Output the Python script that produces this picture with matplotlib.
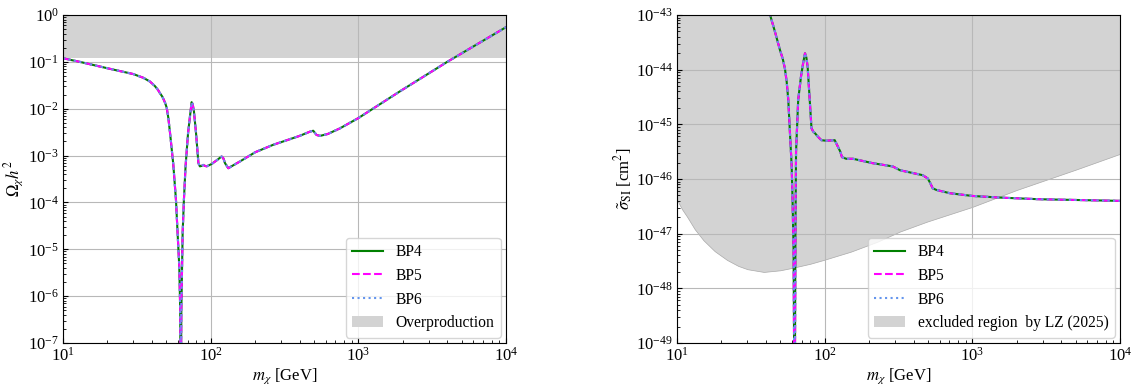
import numpy as np
import matplotlib
matplotlib.use("Agg")
import matplotlib.pyplot as plt
from matplotlib.patches import Patch
from matplotlib.lines import Line2D

plt.rcParams['font.family'] = ['Liberation Serif', 'DejaVu Serif']
plt.rcParams['mathtext.fontset'] = 'stix'

# ---------------- data: relic density ----------------
m_relic = [10, 13, 17.8, 23, 29.9, 35, 38.8, 42, 44, 45.4, 47, 48, 49.2, 50.4, 51.7,
           53, 55.8, 58.2, 59.7, 61.3, 62.2, 62.7, 63.3, 64.6, 65.9, 67.6, 70.3,
           72.5, 74.3, 75.5, 77.0, 79.6, 82.6, 84.5, 87, 89, 91.5, 94, 101.5, 110,
           118.6, 122, 125, 131.6, 140, 157, 200, 265, 309, 400, 470, 495, 521, 550,
           620, 750, 1000, 1911, 4000, 10000]
log_omega_bp4 = [-0.923, -1.00, -1.10, -1.18, -1.26, -1.34, -1.42, -1.52, -1.60,
                 -1.67, -1.74, -1.80, -1.88, -1.98, -2.20, -2.50, -3.18, -3.94,
                 -4.65, -5.37, -6.30, -9.0, -6.30, -4.65, -3.94, -3.23, -2.52,
                 -2.15, -1.86, -1.90, -2.05, -2.52, -3.16, -3.23, -3.22, -3.20,
                 -3.22, -3.23, -3.18, -3.10, -3.02, -3.06, -3.16, -3.27, -3.22,
                 -3.13, -2.93, -2.77, -2.70, -2.58, -2.49, -2.47, -2.56, -2.58,
                 -2.54, -2.42, -2.20, -1.63, -1.00, -0.26]
log_omega_bp5 = list(log_omega_bp4)
log_omega_bp6 = list(log_omega_bp4)
omega_planck = 0.12

# ---------------- data: direct detection ----------------
m_dd = [38, 42.7, 46, 49.8, 52, 53.8, 55.3, 56.7, 58.2, 59.8, 60.6, 61.6, 62.6,
        63.4, 64.0, 66.2, 69.1, 71.5, 73.6, 75.2, 76.7, 79.2, 81.4, 83.5, 85.8,
        90.3, 95, 102.6, 117, 123, 127.6, 131, 140, 155.6, 211, 289, 324, 461, 499,
        520, 539, 571, 704, 1000, 1540, 2830, 10000]
log_sigma_bp4 = [-42.65, -43.00, -43.30, -43.64, -43.80, -43.98, -44.22, -44.55,
                 -45.16, -45.77, -46.38, -47.30, -51.0, -47.00, -45.50, -44.55,
                 -44.13, -43.88, -43.70, -43.78, -43.95, -44.55, -45.07, -45.13,
                 -45.16, -45.23, -45.29, -45.30, -45.29, -45.41, -45.50, -45.60,
                 -45.63, -45.63, -45.71, -45.77, -45.84, -45.93, -45.99, -46.08,
                 -46.17, -46.20, -46.26, -46.31, -46.34, -46.37, -46.40]
log_sigma_bp5 = list(log_sigma_bp4)
log_sigma_bp6 = list(log_sigma_bp4)

m_lz = [10, 10.8, 11.7, 13.2, 15.1, 18, 21.8, 26, 30, 38.7, 50, 61.6, 80, 98.6,
        150, 226, 324, 493, 1000, 2000, 5000, 10000]
log_sigma_lz = [-46.38, -46.55, -46.69, -46.92, -47.12, -47.32, -47.48, -47.59,
                -47.65, -47.70, -47.67, -47.62, -47.55, -47.48, -47.33, -47.15,
                -46.96, -46.78, -46.51, -46.20, -45.83, -45.54]

labels = ['BP4', 'BP5', 'BP6']
colors = ['green', 'magenta', 'cornflowerblue']
styles = ['-', '--', ':']

fig = plt.figure(figsize=(11.35, 3.87), dpi=100)
ax1 = fig.add_axes([63/1135, 44/387, 443/1135, 328/387])
ax2 = fig.add_axes([677/1135, 44/387, 443/1135, 328/387])

FS_LAB = 12
FS_TICK = 12
FS_LEG = 11.2
# ---- left panel ----
ax1.fill_between([10, 1e4], [omega_planck, omega_planck], [1, 1],
                 color='lightgray', linewidth=0)
for lab, c, ls, ys in zip(labels, colors, styles,
                          [log_omega_bp4, log_omega_bp5, log_omega_bp6]):
    ax1.plot(m_relic, 10 ** np.array(ys), color=c, ls=ls, lw=1.5, label=lab)
ax1.set_xscale('log'); ax1.set_yscale('log')
ax1.set_xlim(10, 1e4); ax1.set_ylim(1e-7, 1)
ax1.set_xlabel(r'$m_\chi$ [GeV]', fontsize=FS_LAB, labelpad=1)
ax1.set_ylabel(r'$\Omega_\chi h^2$', fontsize=FS_LAB, labelpad=1)
h1 = [Line2D([], [], color=c, ls=ls, lw=1.5) for c, ls in zip(colors, styles)]
h1.append(Patch(facecolor='lightgray', edgecolor='none'))
ax1.legend(h1, labels + ['Overproduction'], loc='lower right', fontsize=FS_LEG,
           borderaxespad=0.35)

# ---- right panel ----
lz = 10 ** np.array(log_sigma_lz)
ax2.fill_between(m_lz, lz, 1e-43, color='lightgray', edgecolor='darkgray', linewidth=0.5)
for lab, c, ls, ys in zip(labels, colors, styles,
                          [log_sigma_bp4, log_sigma_bp5, log_sigma_bp6]):
    ax2.plot(m_dd, 10 ** np.array(ys), color=c, ls=ls, lw=1.5, label=lab)
ax2.set_xscale('log'); ax2.set_yscale('log')
ax2.set_xlim(10, 1e4); ax2.set_ylim(1e-49, 1e-43)
ax2.set_xlabel(r'$m_\chi$ [GeV]', fontsize=FS_LAB, labelpad=1)
ax2.set_ylabel(r'$\tilde{\sigma}_{\rm SI}$ [cm$^2$]', fontsize=FS_LAB, labelpad=1)
h2 = [Line2D([], [], color=c, ls=ls, lw=1.5) for c, ls in zip(colors, styles)]
h2.append(Patch(facecolor='lightgray', edgecolor='none'))
ax2.legend(h2, labels + ['excluded region  by LZ (2025)'], loc='lower right',
           fontsize=FS_LEG, borderaxespad=0.35)

for ax in (ax1, ax2):
    ax.grid(True, which='major', color='#b8b8b8', lw=0.8)
    ax.tick_params(which='both', direction='in', labelsize=FS_TICK, pad=3)
    ax.tick_params(which='minor', length=2)

fig.savefig('out.png', dpi=100)
